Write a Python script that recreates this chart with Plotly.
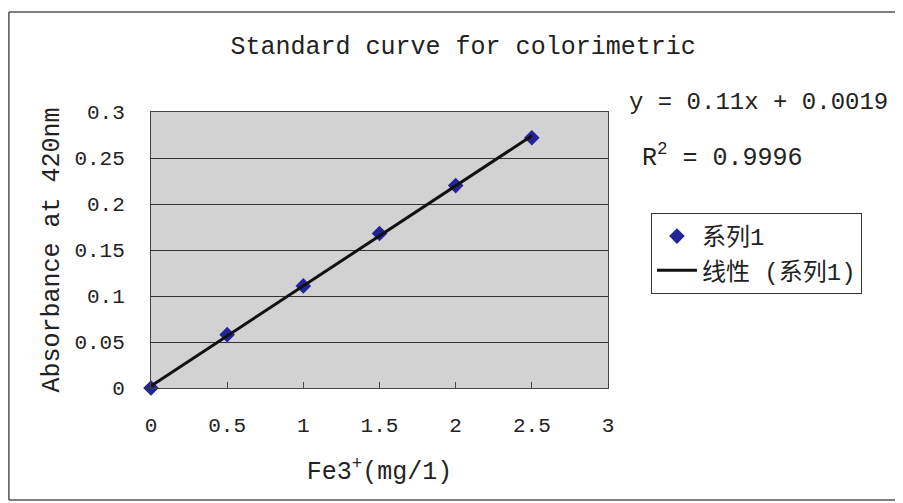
import numpy as np
import plotly.graph_objects as go

# Data
fe_conc = [0, 0.5, 1.0, 1.5, 2.0, 2.5]
absorbance = [0.0, 0.058, 0.111, 0.168, 0.220, 0.272]
x_ticks = [0, 0.5, 1, 1.5, 2, 2.5, 3]
y_ticks = [0, 0.05, 0.1, 0.15, 0.2, 0.25, 0.3]
series_name = "系列1"
trend_name = "线性 (系列1)"
equation_text = "y = 0.11x + 0.0019"
r2_text = "R<sup>2</sup> = 0.9996"

FONT = "Liberation Mono, Noto Sans CJK SC, monospace"

slope, intercept = np.polyfit(fe_conc, absorbance, 1)
trend_x = [fe_conc[0], fe_conc[-1]]
trend_y = [slope * v + intercept for v in trend_x]

fig = go.Figure()
fig.add_trace(go.Scatter(
    x=fe_conc, y=absorbance, mode="markers", name=series_name,
    marker=dict(symbol="diamond", size=12, color="#23239a",
                line=dict(width=0)),
    cliponaxis=False,
))
fig.add_trace(go.Scatter(
    x=trend_x, y=trend_y, mode="lines", name=trend_name,
    line=dict(color="#111111", width=3),
))

frame_line = dict(color="#555555", width=1.5)
fig.update_layout(
    width=895, height=495,
    margin=dict(l=143, r=295, t=104, b=115, autoexpand=False),
    paper_bgcolor="white",
    plot_bgcolor="#d2d2d2",
    font=dict(family=FONT, size=21, color="#222222"),
    title=dict(text="Standard curve for colorimetric", x=0.683, xanchor="center",
               xref="paper", y=0.924, yanchor="middle", font=dict(size=25, family=FONT)),
    showlegend=True,
    legend=dict(x=1.094, xanchor="left", y=0.634, yanchor="top",
                bgcolor="white", bordercolor="#333333", borderwidth=1,
                font=dict(size=24, family=FONT), tracegroupgap=0,
                itemwidth=40),
    xaxis=dict(range=[0, 3], tickvals=x_ticks, ticktext=[str(v) for v in x_ticks],
               showgrid=False, zeroline=False, showline=True, linecolor="#444444",
               linewidth=1, mirror=True, ticks="inside", ticklen=6, tickcolor="#444444",
               ticklabelstandoff=18,
               title=dict(text="Fe3<sup>+</sup>(mg/1)", standoff=24, font=dict(size=25))),
    yaxis=dict(range=[0, 0.3], tickvals=y_ticks, ticktext=[f"{v:g}" for v in y_ticks],
               showgrid=True, gridcolor="#333333", gridwidth=1, zeroline=False,
               showline=True, linecolor="#444444", linewidth=1, mirror=True,
               ticks="", ticklabelstandoff=21,
               title=dict(text="Absorbance at 420nm", standoff=7, font=dict(size=25))),
    annotations=[
        dict(text=equation_text, xref="paper", yref="paper", x=1.0416, y=1.036,
             xanchor="left", yanchor="middle", showarrow=False, font=dict(size=24)),
        dict(text=r2_text, xref="paper", yref="paper", x=1.070, y=0.841,
             xanchor="left", yanchor="middle", showarrow=False, font=dict(size=25)),
    ],
    shapes=[
        dict(type="line", xref="paper", yref="paper", x0=-0.311, x1=-0.311, y0=-0.406, y1=1.362,
             line=frame_line, layer="below"),
        dict(type="line", xref="paper", yref="paper", x0=-0.311, x1=1.66, y0=1.362, y1=1.362,
             line=frame_line, layer="below"),
        dict(type="line", xref="paper", yref="paper", x0=-0.311, x1=1.66, y0=-0.406, y1=-0.406,
             line=frame_line, layer="below"),
    ],
)

fig.write_html("out.html")
